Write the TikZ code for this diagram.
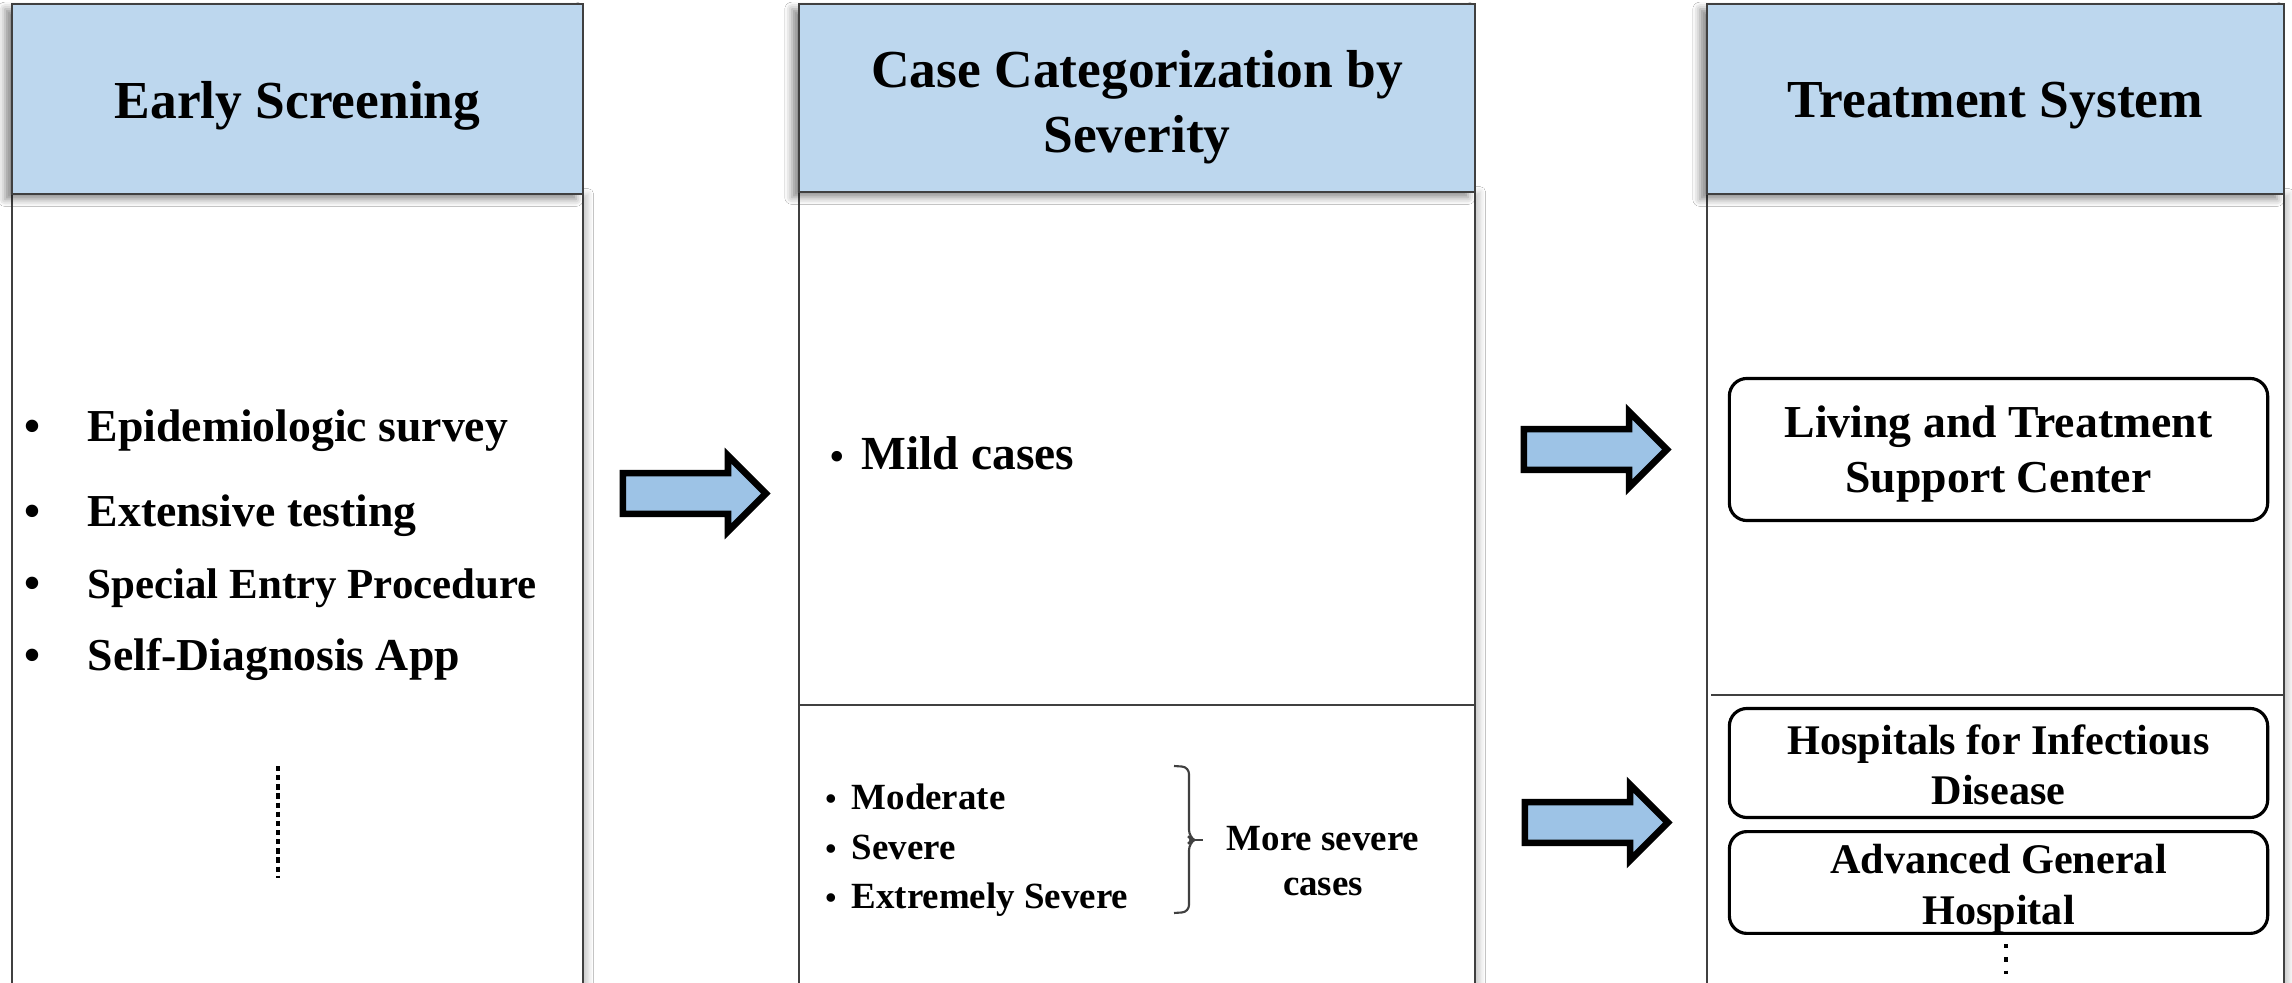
\documentclass[tikz,border=0pt]{standalone}
\usepackage{fontspec}
\setmainfont{Liberation Serif}
\usepackage{tikz}
\usetikzlibrary{shapes.arrows}
\usetikzlibrary{shadows.blur}
\definecolor{headblue}{RGB}{189,215,238}
\definecolor{arrowblue}{RGB}{157,195,230}
\newcommand{\lift}[1]{\rule{0pt}{#1}}
\tikzstyle{head} = [draw=black!75, fill=headblue, line width=0.6pt, align=center, font=\fontsize{15.2}{18.5}\selectfont\bfseries, blur shadow={shadow xshift=-2pt, shadow yshift=-1.5pt, shadow blur radius=2pt, shadow opacity=45}]
\tikzstyle{body} = [draw=black!75, fill=white, line width=0.6pt, blur shadow={shadow xshift=1.5pt, shadow yshift=0pt, shadow blur radius=1.5pt, shadow opacity=20}]
\tikzstyle{rule} = [draw=black!75, line width=0.6pt]
\tikzstyle{flow} = [single arrow, anchor=tail, draw=black, fill=arrowblue, line width=1.9pt, minimum height=1.43cm, minimum width=0.69cm, inner xsep=0pt, inner ysep=0.17cm, single arrow head extend=0.175cm]
\tikzstyle{item} = [font=\fontsize{13}{15.6}\selectfont\bfseries, inner sep=0pt]
\tikzstyle{subitem} = [font=\fontsize{10.5}{12.8}\selectfont\bfseries, inner sep=0pt, align=center]
\tikzstyle{place} = [draw=black, rounded corners=5pt, line width=0.9pt, align=center, minimum width=5.38cm, inner ysep=0pt]

\begin{document}
\begin{tikzpicture}[x=0.01cm,y=-0.01cm]
			\useasboundingbox (0,0) rectangle (2292,983);
			\clip (0,0) rectangle (2292,983);
			\fill[white] (0,0) rectangle (2292,983);
			\draw[body] (12,194) rectangle (583,1010);
			\draw[body] (799,192) rectangle (1475,1010);
			\draw[body] (1707,194) rectangle (2284,1010);
			\draw[rule] (799,705) -- (1475,705);
			\draw[rule] (1711,695) -- (2283,695);
			\node[head, minimum width=5.71cm, minimum height=1.9cm] (screen) at (297.5,99) {\lift{0.95em}Early Screening};
			\node[head, minimum width=6.76cm, minimum height=1.88cm] (sort) at (1137,98) {\lift{1.05em}Case Categorization by\\Severity};
			\node[head, minimum width=5.77cm, minimum height=1.9cm] (treat) at (1995.5,99) {\lift{0.92em}Treatment System};
			\foreach \y/\s/\t [count=\i] in {442/13/Epidemiologic survey, 527/13/Extensive testing, 599/12.2/Special Entry Procedure, 671/13/Self-Diagnosis App}
			{
				\node[item, anchor=base] (scrdot-\i) at (33,\y) {•};
				\node[item, font=\fontsize{\s}{15}\selectfont\bfseries, anchor=base west] (scr-\i) at (87,\y) {\t};
			}
			\draw[line width=1.4pt, dash pattern=on 1.5pt off 1.1pt] (278,766) -- (278,878);
			\node[item, font=\fontsize{11}{13}\selectfont\bfseries, anchor=base] (milddot) at (837,470) {•};
			\node[item, font=\fontsize{13.5}{16}\selectfont\bfseries, anchor=base west] (mild) at (861,470) {Mild cases};
			\foreach \y/\t [count=\i] in {809/Moderate, 859/Severe, 908/Extremely Severe}
			{
				\node[subitem, font=\fontsize{9}{11}\selectfont\bfseries, anchor=base] (sevdot-\i) at (831,\y) {•};
				\node[subitem, anchor=base west] (sev-\i) at (851,\y) {\t};
			}
			\coordinate (brtop) at (1174,766);
			\coordinate (brtip) at (1194,840);
			\coordinate (brbot) at (1174,913);
			\draw[rule, rounded corners=2pt] (brtop) -- (1189,767) -- (1189,837) -- (brtip) -- (1189,843) -- (1189,912) -- (brbot);
			\draw[rule] (brtip) -- (1203,840);
			\node[subitem] (worse) at (1323,861) {More severe\\cases};
			\node[flow] (gosort) at (619.5,493.5) {};
			\node[flow] (gocenter) at (1520.5,449.5) {};
			\node[flow] (gohosp) at (1521.5,822.5) {};
			\node[place, minimum height=1.42cm, font=\fontsize{13}{15.6}\selectfont\bfseries] (center) at (1998.5,449.5) {\lift{0.9em}Living and Treatment\\Support Center};
			\node[place, minimum height=1.09cm, font=\fontsize{12}{14.4}\selectfont\bfseries] (infect) at (1998.5,763) {\lift{0.8em}Hospitals for Infectious\\Disease};
			\node[place, minimum height=1.0cm, font=\fontsize{12}{14.4}\selectfont\bfseries] (general) at (1998.5,882.5) {\lift{1.0em}Advanced General\\Hospital};
			\draw[line width=1.2pt, dash pattern=on 1.2pt off 2.6pt] (2006,944) -- (2006,974);
		\end{tikzpicture}
\end{document}
